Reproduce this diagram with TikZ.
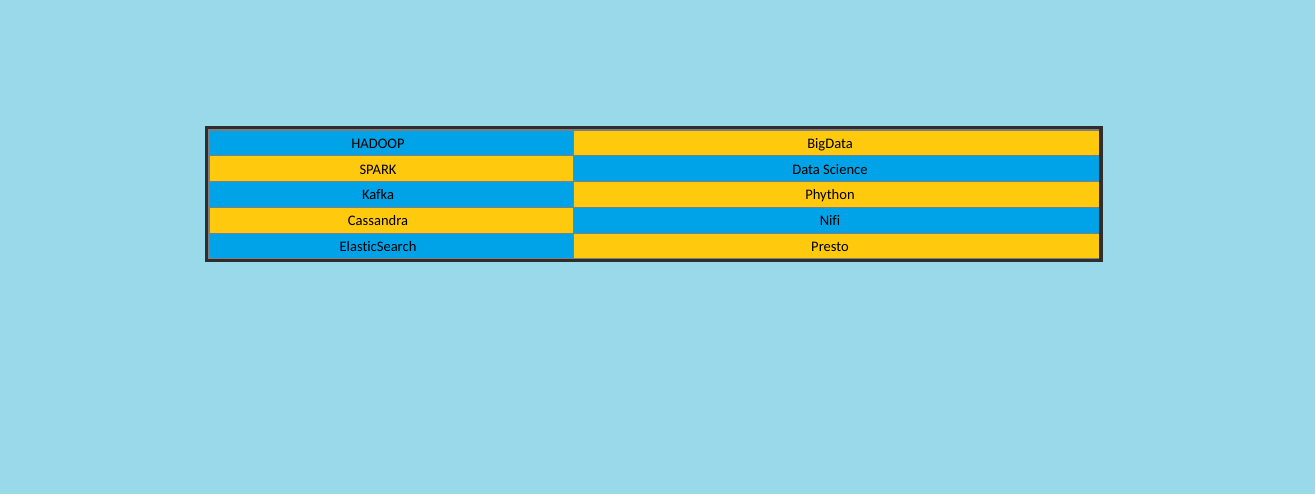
\documentclass[tikz,border=0pt]{standalone}
\usepackage{fontspec}
\setmainfont[Ligatures={NoCommon,NoContextual}]{Carlito}
\definecolor{bgblue}{HTML}{99D9EA}
\definecolor{cellblue}{HTML}{00A2E8}
\definecolor{cellyellow}{HTML}{FFC90E}
\definecolor{rimgrey}{HTML}{7F7F7F}
\definecolor{rimdark}{HTML}{2E2E2E}
\begin{document}
\begin{tikzpicture}[x=0.75pt,y=-0.75pt]
      \tikzstyle{every node}=[font=\fontsize{10.9pt}{12pt}\selectfont, text=black, inner sep=0pt, anchor=base]
      \tikzstyle{cell}=[draw=rimgrey, line width=0.75pt]
      \fill[bgblue] (0,0) rectangle (1315,494);

      % rows of the table
      \foreach \lname/\rname/\lcol/\rcol [count=\i] in {HADOOP/BigData/cellblue/cellyellow,
          SPARK/Data Science/cellyellow/cellblue,
          Kafka/Phython/cellblue/cellyellow,
          Cassandra/N{}i{}f{}i/cellyellow/cellblue,
          Elas{}t{}icSearch/Presto/cellblue/cellyellow}
      {
        \pgfmathsetmacro{\top}{130+25.8*(\i-1)}
        \pgfmathsetmacro{\bot}{\top+25.8}
        \pgfmathsetmacro{\mid}{\top+18.2}
        \path[cell, fill=\lcol] (209,\top) rectangle (573,\bot);
        \path[cell, fill=\rcol] (573,\top) rectangle (1099,\bot);
        \node (l\i) at (378,\mid) {\lname};
        \node (r\i) at (830,\mid) {\rname};
      }

      % frame
      \draw[rimgrey, line width=1.5pt] (208.5,129.5) rectangle (1099.5,258.5);
      \draw[rimdark, line width=2.6pt] (206.5,127.5) rectangle (1101,260.5);
    \end{tikzpicture}
\end{document}
